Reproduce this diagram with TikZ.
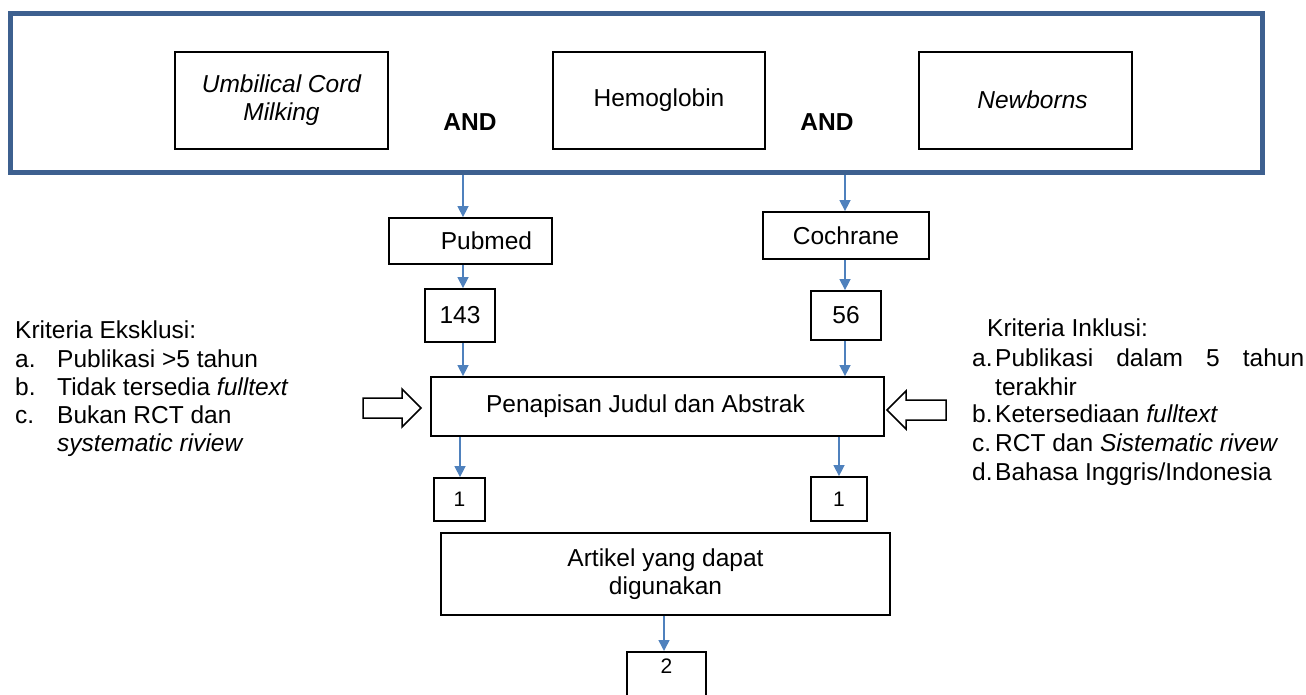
\documentclass[tikz,border=0pt]{standalone}
\usepackage{fontspec}
\setmainfont{Liberation Sans}
\usetikzlibrary{arrows.meta}
\definecolor{frameblue}{RGB}{61,96,143}
\definecolor{arrblue}{RGB}{79,129,189}
\begin{document}
\begin{tikzpicture}[x=1pt,y=-1pt,
  font=\fontsize{24.5}{28}\selectfont,
  box/.style={draw=black, line width=1.8pt, inner sep=0pt, fill=white},
  smallnum/.style={font=\fontsize{21}{24}\selectfont},
  arr/.style={draw=arrblue, line width=1.5pt, -{Triangle[length=11pt,width=11pt]}},
  hollow/.style={draw=black, line width=1.5pt, fill=white, line join=miter},
  txt/.style={anchor=base west, inner sep=0pt}]
\useasboundingbox (0,0) rectangle (1306,695);
\clip (0,0) rectangle (1306,695);

% top frame
\node[draw=frameblue, line width=5pt, minimum width=1252pt, minimum height=159pt, inner sep=0pt] (frame) at (636,93.5) {};
\node[box, minimum width=213pt, minimum height=97pt, align=center] (ucm) at (281.5,100.5) {\raisebox{-3pt}{\itshape Umbilical Cord}\\\raisebox{-3pt}{\itshape Milking}};
\node[box, minimum width=212pt, minimum height=97pt] (hb) at (659,100.5) {Hemoglobin};
\node[box, minimum width=213pt, minimum height=97pt] (nb) at (1025.5,100.5) {\hspace*{14pt}\raisebox{2pt}{\itshape Newborns}};
\node[inner sep=0pt, font=\fontsize{24.5}{28}\selectfont\bfseries] (and1) at (470,122) {AND};
\node[inner sep=0pt, font=\fontsize{24.5}{28}\selectfont\bfseries] (and2) at (827,122) {AND};

% databases
\node[box, minimum width=163pt, minimum height=46pt] (pub) at (470.5,241) {\hspace*{32pt}Pubmed};
\node[box, minimum width=166pt, minimum height=47pt] (coc) at (846,235.5) {Cochrane};
\node[box, minimum width=70pt, minimum height=53pt] (n143) at (460,315.5) {143};
\node[box, minimum width=70pt, minimum height=49pt] (n56) at (846,315.5) {56};

% screening
\node[box, minimum width=453pt, minimum height=59pt] (pen) at (657.5,406.5) {\raisebox{5pt}{Penapisan Judul dan Abstrak}\hspace*{24pt}};
\node[box, smallnum, minimum width=51pt, minimum height=43pt] (one1) at (459.5,499.5) {1};
\node[box, smallnum, minimum width=56pt, minimum height=44pt] (one2) at (839,499) {1};

% result
\node[box, minimum width=449pt, minimum height=82pt, align=center] (art) at (665.5,574) {Artikel yang dapat\\digunakan};
\node[box, smallnum, anchor=north, minimum width=79pt, inner ysep=7pt, text depth=45pt] (n2) at (666.5,651) {2};

% arrow x positions
\coordinate (lx) at (463,0);
\coordinate (rx) at (845,0);
\coordinate (blx) at (460,0);
\coordinate (brx) at (839,0);
\coordinate (cx) at (664,0);

\draw[arr] (frame.south -| lx) -- (pub.north -| lx);
\draw[arr] (frame.south -| rx) -- (coc.north -| rx);
\draw[arr] (pub.south -| lx) -- (n143.north -| lx);
\draw[arr] (coc.south -| rx) -- (n56.north -| rx);
\draw[arr] (n143.south -| lx) -- (pen.north -| lx);
\draw[arr] (n56.south -| rx) -- (pen.north -| rx);
\draw[arr] (pen.south -| blx) -- (one1.north -| blx);
\draw[arr] (pen.south -| brx) -- (one2.north -| brx);
\draw[arr] (art.south -| cx) -- (n2.north -| cx);

% hollow block arrows
\draw[hollow] (363,398) -- (402,398) -- (402,389) -- (421,408) -- (402,427) -- (402,418) -- (363,418) -- cycle;
\draw[hollow] (946,400) -- (906,400) -- (906,391) -- (887,410) -- (906,429) -- (906,420) -- (946,420) -- cycle;

% exclusion criteria
\node[txt] (exh) at (15,338) {Kriteria Eksklusi:};
\node[txt] (exa) at (15,367) {a.};
\node[txt] (exat) at (57,367) {Publikasi >5 tahun};
\node[txt] (exb) at (15,395) {b.};
\node[txt] (exbt) at (57,395) {Tidak tersedia \textit{fulltext}};
\node[txt] (exc) at (15,423) {c.};
\node[txt] (exct) at (57,423) {Bukan RCT dan};
\node[txt] (exct2) at (57,451) {\textit{systematic riview}};

% inclusion criteria
\node[txt] (inh) at (987,336) {Kriteria Inklusi:};
\node[txt] (ina) at (972,366) {a.};
\node[txt] (inat) at (995,366) {\makebox[309pt][s]{Publikasi dalam 5 tahun}};
\node[txt] (inat2) at (995,395) {terakhir};
\node[txt] (inb) at (972,422) {b.};
\node[txt] (inbt) at (995,422) {Ketersediaan \textit{fulltext}};
\node[txt] (inc) at (972,451) {c.};
\node[txt] (inct) at (995,451) {RCT dan \textit{Sistematic rivew}};
\node[txt] (ind) at (972,480) {d.};
\node[txt] (indt) at (995,480) {Bahasa Inggris/Indonesia};
\end{tikzpicture}
\end{document}
